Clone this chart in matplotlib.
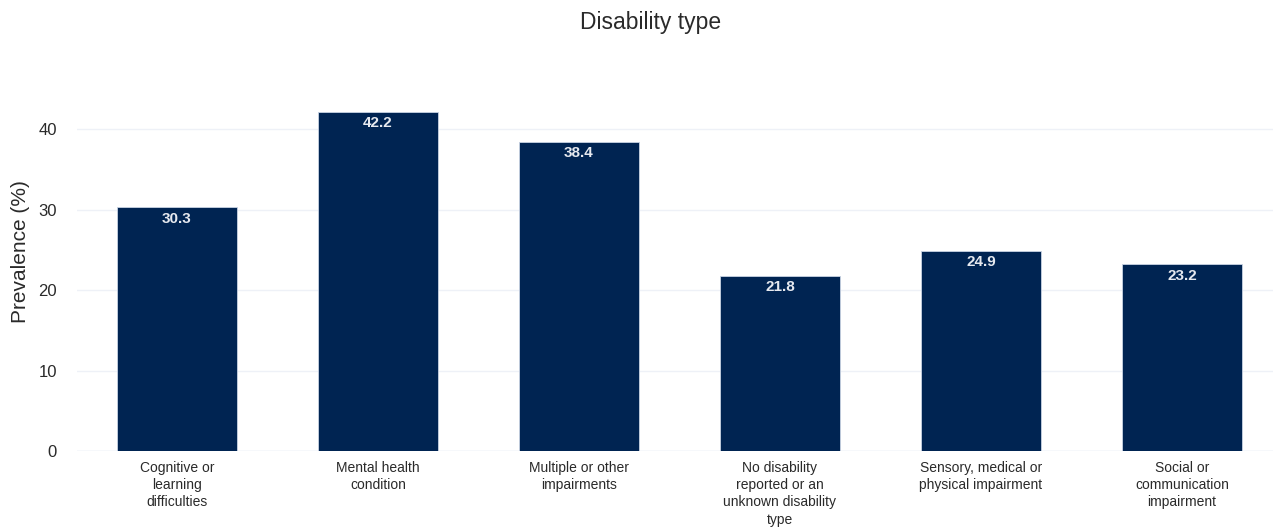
import matplotlib.pyplot as plt

categories = [
    "Cognitive or\nlearning\ndifficulties",
    "Mental health\ncondition",
    "Multiple or other\nimpairments",
    "No disability\nreported or an\nunknown disability\ntype",
    "Sensory, medical or\nphysical impairment",
    "Social or\ncommunication\nimpairment",
]
prevalence = [30.3, 42.2, 38.4, 21.8, 24.9, 23.2]
y_ticks = [0, 10, 20, 30, 40]

plt.rcParams["font.family"] = ["Liberation Sans", "DejaVu Sans"]

W, H = 1273, 529
fig = plt.figure(figsize=(W / 100, H / 100), dpi=100)
left, right, bottom, top = 76.5, 1282.5, 451, 94
ax = fig.add_axes([left / W, (H - bottom) / H, (right - left) / W, (bottom - top) / H])

x = range(len(categories))
bars = ax.bar(x, prevalence, width=0.6, color="#002452",
              edgecolor="#c9d3e3", linewidth=0.6, zorder=3)

for xi, v in zip(x, prevalence):
    ax.annotate(f"{v:.1f}", (xi, v), xytext=(0, -3), textcoords="offset points",
                ha="center", va="top", color="#e6e9ef", fontsize=11,
                fontweight="bold", zorder=4)

ax.set_xlim(-0.5, len(categories) - 0.5)
ax.set_ylim(0, 44.4)
ax.set_yticks(y_ticks)
ax.set_xticks(list(x))
ax.set_xticklabels(categories, fontsize=10, color="#2a2a2a", linespacing=1.3, va="top")
ax.tick_params(axis="y", labelsize=12, colors="#2a2a2a", length=0, pad=14)
ax.tick_params(axis="x", length=0, pad=7)
ax.grid(axis="y", color="#eef1f7", linewidth=1, zorder=0)
for s in ax.spines.values():
    s.set_visible(False)
ax.axhline(0, color="#e3e8f1", linewidth=1, zorder=1)

# y-axis title placed in figure pixels
fig.text(21 / W, 1 - 252 / H, "Prevalence (%)", rotation=90, ha="center", va="center",
         fontsize=15, color="#2a2a2a")
fig.text(651 / W, 1 - 22 / H, "Disability type", ha="center", va="center",
         fontsize=16.5, color="#2a2a2a")

fig.savefig("out.png", dpi=100, facecolor="white")
